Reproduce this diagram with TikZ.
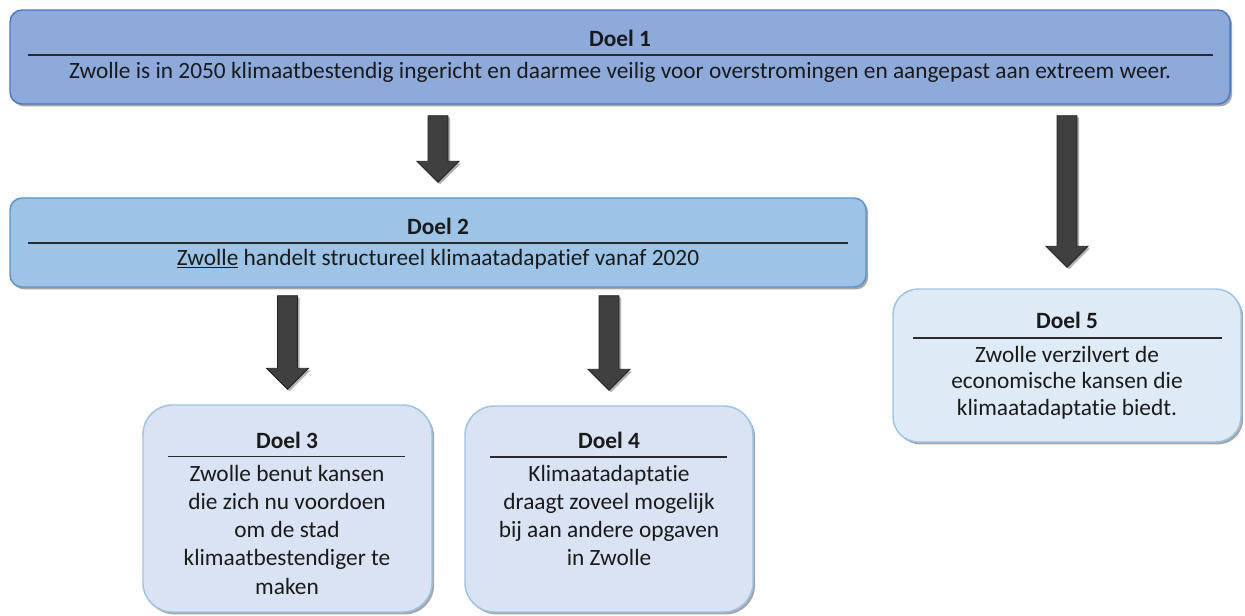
\documentclass[tikz,border=0pt]{standalone}
\usepackage{fontspec}
\setmainfont{Carlito}[Ligatures=NoCommon]
\usetikzlibrary{calc,shadows}

\definecolor{goalA}{HTML}{8EAADB}
\definecolor{goalAline}{HTML}{4A78C2}
\definecolor{goalB}{HTML}{9DC3E6}
\definecolor{goalBline}{HTML}{5B92CC}
\definecolor{goalC}{HTML}{DAE3F3}
\definecolor{goalD}{HTML}{DEEBF7}
\definecolor{goalCline}{HTML}{9DC3E6}
\definecolor{arrowfill}{HTML}{404040}
\definecolor{arrowline}{HTML}{202020}
\definecolor{rulecol}{HTML}{2A2A2A}
\definecolor{inkcol}{HTML}{1A1A1A}

\newcommand\bodyfont{\fontsize{17.5}{21.2}\selectfont}
\newcommand\bodyfontb{\fontsize{17.5}{20}\selectfont}

% vertical block arrow: #1 = top middle point, #2 = tip point
\newcommand\blockarrow[2]{%
  \path[arrowbody] let \p1=#1, \p2=#2 in
    (\x1-7.5pt,\y1) -- (\x1+7.5pt,\y1) -- (\x1+7.5pt,\y2+15.75pt)
    -- (\x1+15.75pt,\y2+15.75pt) -- (\x1,\y2) -- (\x1-15.75pt,\y2+15.75pt)
    -- (\x1-7.5pt,\y2+15.75pt) -- cycle;}

\begin{document}
\begin{tikzpicture}[x=0.75pt,y=-0.75pt,
  boxshadow/.style={drop shadow={shadow xshift=1.6pt,shadow yshift=-1.8pt,opacity=0.35,fill=black}},
  goalbox/.style={draw,line width=1.1pt,inner sep=0pt,boxshadow},
  topgoal/.style={goalbox,fill=goalA,draw=goalAline,rounded corners=9pt},
  midgoal/.style={goalbox,fill=goalB,draw=goalBline,rounded corners=9pt},
  subgoal/.style={goalbox,fill=goalC,draw=goalCline,rounded corners=22pt},
  sidegoal/.style={goalbox,fill=goalD,draw=goalCline,rounded corners=19pt},
  goaltitle/.style={anchor=base,inner sep=0pt,font=\bodyfont\bfseries,text=inkcol},
  goaltext/.style={anchor=base,inner sep=0pt,font=\bodyfont,text=inkcol},
  goalblock/.style={anchor=north,inner sep=0pt,align=center,font=\bodyfont,text=inkcol},
  goalrule/.style={draw=rulecol,line width=1.1pt},
  arrowbody/.style={fill=arrowfill,draw=arrowline,line width=0.6pt,
    drop shadow={shadow xshift=1.5pt,shadow yshift=-1.5pt,opacity=0.3,fill=black}},
]
\useasboundingbox (0,0) rectangle (1245,615);

% goal boxes
\node[topgoal,minimum width=915pt,minimum height=70.5pt] (b1) at (620,57) {};
\node[midgoal,minimum width=642pt,minimum height=66.75pt] (b2) at (438,242.5) {};
\node[subgoal,minimum width=216.75pt,minimum height=155.25pt] (b3) at (287.5,508.5) {};
\node[subgoal,minimum width=216pt,minimum height=154.5pt] (b4) at (609,509) {};
\node[sidegoal,minimum width=261pt,minimum height=114.75pt] (b5) at (1067,365.5) {};

% Doel 1
\node[goaltitle] (t1) at (620,46) {Doel 1};
\draw[goalrule] (28,55) -- (1213,55);
\node[goaltext] (x1) at (620,78) {Zwolle is in 2050 klimaatbestendig ingericht en daarmee veilig voor overstromingen en aangepast aan extreem weer.};

% Doel 2
\node[goaltitle] (t2) at (438,234) {Doel 2};
\draw[goalrule] (28,243) -- (848,243);
\node[goaltext] (x2) at (438,265) {\underline{Zwolle} handelt structureel klimaatadapatief vanaf 2020};

% Doel 3
\node[goaltitle] (t3) at (287,448) {Doel 3};
\draw[goalrule] (168,456.5) -- (405,456.5);
\node[goalblock] (x3) at (287,461) {\strut Zwolle benut kansen\\ die zich nu voordoen\\ om de stad\\ klimaatbestendiger te\\ maken};

% Doel 4
\node[goaltitle] (t4) at (609,448) {Doel 4};
\draw[goalrule] (490,457) -- (727,457);
\node[goalblock] (x4) at (609,461) {\strut Klimaatadaptatie\\ draagt zoveel mogelijk\\ bij aan andere opgaven\\ in Zwolle};

% Doel 5
\node[goaltitle] (t5) at (1067,328) {Doel 5};
\draw[goalrule] (913,338) -- (1222,338);
\node[goalblock,font=\bodyfontb] (x5) at (1067,343.3) {\strut Zwolle verzilvert de\\ economische kansen die\\ klimaatadaptatie biedt.};

% block arrows between the goals
\blockarrow{($(b1.south -| b2.north)+(0,11)$)}{($(b2.north)+(0,-15)$)}
\blockarrow{($(b1.south -| b5.north)+(0,11)$)}{($(b5.north)+(0,-21)$)}
\blockarrow{($(b2.south -| b3.north)+(0,8)$)}{($(b3.north)+(0,-15)$)}
\blockarrow{($(b2.south -| b4.north)+(0,8)$)}{($(b4.north)+(0,-15)$)}
\end{tikzpicture}
\end{document}
